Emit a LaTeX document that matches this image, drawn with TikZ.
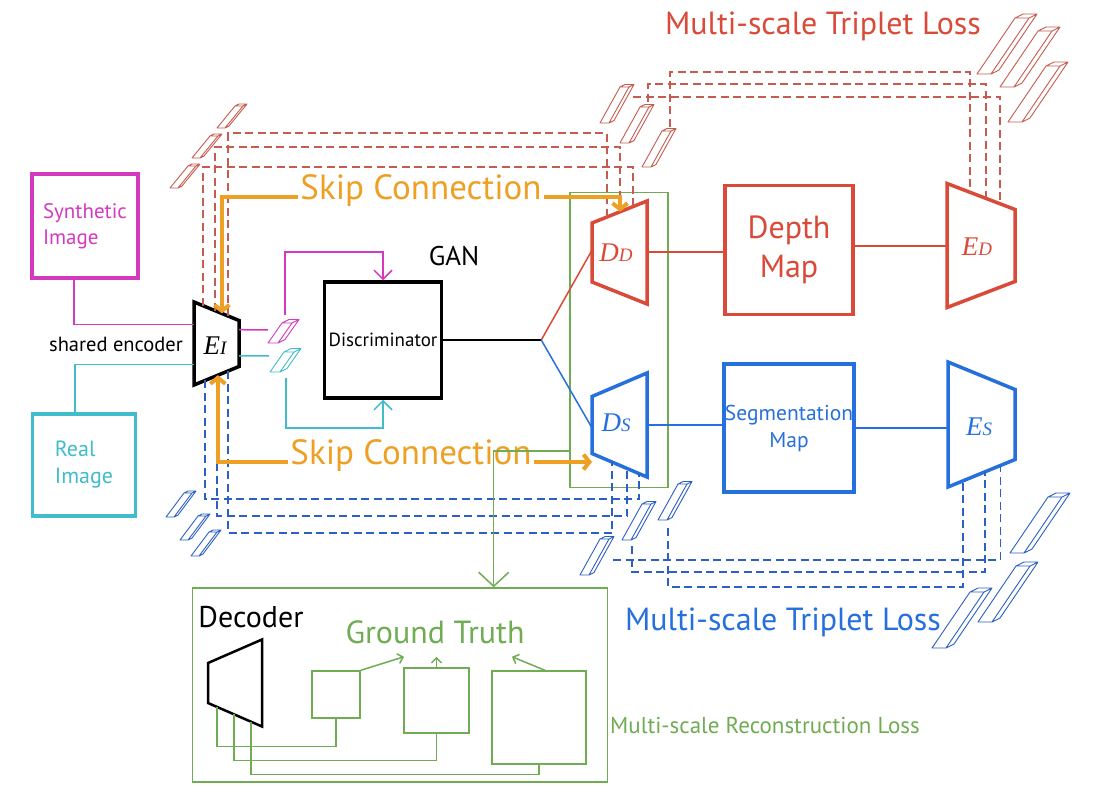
\documentclass[tikz,border=0pt]{standalone}
\usepackage{fontspec}
\setmainfont{PT Sans}
\newfontfamily\lblserif{Liberation Serif}
\usetikzlibrary{arrows.meta, calc, positioning}

\definecolor{synthmag}{RGB}{212,58,192}
\definecolor{realcyan}{RGB}{64,188,204}
\definecolor{depthred}{RGB}{218,74,56}
\definecolor{dashred}{RGB}{198,92,80}
\definecolor{segblue}{RGB}{38,112,222}
\definecolor{dashblue}{RGB}{44,96,196}
\definecolor{gtgreen}{RGB}{112,172,84}
\definecolor{skiporange}{RGB}{238,160,36}

% trapezium block: style, name, centre x, centre y, half width, left half height, right half height
\newcommand{\trapblock}[7]{%
  \coordinate (#2-a) at (#3-#5,#4-#6);
  \coordinate (#2-b) at (#3+#5,#4-#7);
  \coordinate (#2-c) at (#3+#5,#4+#7);
  \coordinate (#2-d) at (#3-#5,#4+#6);
  \coordinate (#2-out) at ($(#2-b)!.5!(#2-c)$);
  \coordinate (#2-in) at ($(#2-a)!.5!(#2-d)$);
  \draw[#1] (#2-a) -- (#2-b) -- (#2-c) -- (#2-d) -- cycle;}

% slanted feature bar: style, base point, length x, length y, width, depth
\newcommand{\featbar}[6]{%
  \draw[#1] (#2) -- ++(#5,0) -- ++(#3,-#4) -- ++(-#5,0) -- cycle
    (#2) ++(#3,-#4) -- ++(#6,-#6/2) -- ++(#5,0) -- ++(-#6,#6/2)
    (#2) ++(#5,0) -- ++(#6,-#6/2) -- ++(#3,-#4);}

\begin{document}
\begin{tikzpicture}[
    x=1pt, y=-1pt,
    every node/.style={inner sep=2pt},
    box/.style={draw, line width=3.5pt, inner sep=0pt},
    thinbox/.style={draw=gtgreen, line width=1.4pt, inner sep=0pt},
    wire/.style={line width=1.5pt},
    trap/.style={line width=3.5pt, line join=miter, fill=white},
    fbar/.style={line width=0.9pt, line join=round},
    lossline/.style={line width=1.5pt, dash pattern=on 8pt off 4.5pt},
    headarrow/.style={-{Straight Barb[length=9pt, width=18pt]}},
    skiparrow/.style={draw=skiporange, line width=4pt, -{Straight Barb[length=6pt, width=15pt]}},
    skiptext/.style={text=skiporange, font=\fontsize{35}{35}\selectfont},
    lbl/.style={font=\lblserif\itshape\fontsize{27}{27}\selectfont}
]
    \fill[white] (0,0) rectangle (1107,799);
    \useasboundingbox (0,0) rectangle (1107,799);

    % Nodes
    \node[box, draw=synthmag, minimum width=106, minimum height=104, align=left, text=synthmag,
          font=\fontsize{21}{26}\selectfont] (synth) at (85,226) {Synthetic\\Image};
    \node[box, draw=realcyan, minimum width=103, minimum height=102, align=left, text=realcyan,
          font=\fontsize{22}{27}\selectfont] (real) at (84,465) {Real\\Image};
    \node[box, minimum width=117, minimum height=116, font=\fontsize{19}{19}\selectfont] (disc) at (383,340) {Discriminator};
    \node[thinbox, minimum width=98, minimum height=295] (decgroup) at (619,340) {};
    \node[box, draw=depthred, minimum width=128, minimum height=129, align=center, text=depthred,
          font=\fontsize{32}{39}\selectfont] (depth) at (789,250) {Depth\\Map};
    \node[box, draw=segblue, minimum width=130, minimum height=128, align=center, text=segblue,
          font=\fontsize{21.5}{27}\selectfont] (seg) at (789,428) {Segmentation\\Map};
    \node[thinbox, minimum width=415, minimum height=194] (recon) at (400,685) {};
    \node[thinbox, minimum width=48, minimum height=47] (gt1) at (336,694.5) {};
    \node[thinbox, minimum width=65, minimum height=65] (gt2) at (436.5,700.5) {};
    \node[thinbox, minimum width=94, minimum height=93] (gt3) at (539,717.5) {};

    % Feature bars
    \foreach \px/\py in {217/128, 192/158, 170/188} \featbar{fbar, draw=dashred}{\px,\py}{18}{22}{8}{4};
    \foreach \px/\py in {600/123, 620/143, 642/167} \featbar{fbar, draw=dashred}{\px,\py}{20}{36}{9}{5};
    \foreach \px/\py in {977/74, 1000/87, 1008/122} \featbar{fbar, draw=dashred}{\px,\py}{38}{56}{14}{8};
    \foreach \px/\py in {166/517, 180/540, 191/556} \featbar{fbar, draw=dashblue}{\px,\py}{18}{24}{8}{4};
    \foreach \px/\py in {580/575, 622/540, 658/520} \featbar{fbar, draw=dashblue}{\px,\py}{20}{36}{9}{5};
    \foreach \px/\py in {1010/553, 978/622, 932/648} \featbar{fbar, draw=dashblue}{\px,\py}{38}{56}{14}{8};
    \featbar{fbar, draw=synthmag}{268,343}{14}{20}{10}{7}
    \featbar{fbar, draw=realcyan}{270,372}{14}{20}{10}{7}

    % Encoders and decoders
    \trapblock{trap}{EI}{216.5}{343.5}{22.5}{41.5}{23}
    \trapblock{trap, draw=depthred}{DD}{619.5}{252.5}{27.5}{29.5}{51.5}
    \trapblock{trap, draw=segblue}{DS}{619.5}{425}{27.5}{28.5}{52}
    \trapblock{trap, draw=depthred}{ED}{981}{245.5}{34}{62}{36}
    \trapblock{trap, draw=segblue}{ES}{981.5}{424.5}{33.5}{62.5}{35}
    \trapblock{trap, line width=2.5pt}{DEC}{235}{683}{27}{20}{43.5}

    \node[lbl] (EI) at (215,346) {E{\fontsize{19}{19}\selectfont I}};
    \node[lbl, text=depthred] (DD) at (616,253) {D{\fontsize{19}{19}\selectfont D}};
    \node[lbl, text=segblue] (DS) at (616,423) {D{\fontsize{19}{19}\selectfont S}};
    \node[lbl, text=depthred] (ED) at (977,247) {E{\fontsize{19}{19}\selectfont D}};
    \node[lbl, text=segblue] (ES) at (979,427) {E{\fontsize{19}{19}\selectfont S}};

    % Arrows
    \draw[wire, draw=synthmag] ([xshift=-11pt]synth.south) |- ($(EI-a)!.27!(EI-d)$);
    \draw[wire, draw=realcyan] ([xshift=-9pt]real.north) |- ($(EI-a)!.75!(EI-d)$);
    \coordinate (magin) at (268,330);
    \coordinate (magtop) at (285,315);
    \coordinate (cyanin) at (269,356);
    \coordinate (cyanbot) at (286,378);
    \draw[wire, draw=synthmag] ($(EI-b)!.2!(EI-c)$) -- (magin);
    \draw[wire, draw=realcyan] ($(EI-b)!.77!(EI-c)$) -- (cyanin);
    \draw[wire, draw=synthmag, headarrow] (magtop) -- ++(0,-63) -| (disc.north);
    \draw[wire, draw=realcyan, headarrow] (cyanbot) -- ++(0,50) -| (disc.south);

    \draw[wire] (disc.east) -- ++(98,0) coordinate (split);
    \draw[wire, draw=depthred] (split) -- ($(DD-a)!.46!(DD-d)$);
    \draw[wire, draw=segblue] (split) -- ($(DS-a)!.55!(DS-d)$);
    \draw[wire, draw=depthred, line width=2pt] (DD-out) -- (DD-out -| depth.west);
    \draw[wire, draw=depthred, line width=2pt] ([yshift=4pt]depth.east) -- ([yshift=4pt]depth.east -| ED-a);
    \draw[wire, draw=segblue] (DS-out) -- (DS-out -| seg.west);
    \draw[wire, draw=segblue, line width=2pt] (seg.east) -- (seg.east -| ES-a);

    % Triplet loss links
    \foreach \s/\t/\h in {.755/.27/133, .47/.51/147, .2/.745/167}{
        \coordinate (s) at ($(EI-a)!\s!(EI-b)$);
        \coordinate (t) at ($(DD-a)!\t!(DD-b)$);
        \coordinate (h) at (0,\h);
        \draw[lossline, draw=dashred] (s) |- (t |- h) -- (t);
    }
    \foreach \s/\t/\h in {.245/.855/499, .51/.64/516, .755/.36/533}{
        \coordinate (s) at ($(EI-d)!\s!(EI-c)$);
        \coordinate (t) at ($(DS-d)!\t!(DS-c)$);
        \coordinate (h) at (0,\h);
        \draw[lossline, draw=dashblue] (s) |- (t |- h) -- (t);
    }
    \foreach \sx/\sy/\t/\h in {670/127/.34/72, 648/102/.57/84, 633/97/.78/97}{
        \coordinate (s) at (\sx,\sy);
        \coordinate (t) at ($(ED-a)!\t!(ED-b)$);
        \coordinate (h) at (0,\h);
        \draw[lossline, draw=dashred] (s) |- (t |- h) -- (t);
    }
    \foreach \sx/\sy/\t/\h in {613/560/.78/560, 632/546/.55/572, 668/528/.22/587}{
        \coordinate (s) at (\sx,\sy);
        \coordinate (t) at ($(ES-d)!\t!(ES-c)$);
        \coordinate (h) at (0,\h);
        \draw[lossline, draw=dashblue] (s) |- (t |- h) -- (t);
    }

    % Skip connections
    \node[skiptext, anchor=mid] (skipD) at (421,197) {Skip Connection};
    \node[skiptext, anchor=mid] (skipS) at (411,462) {Skip Connection};
    \draw[skiparrow] (skipD.mid west) -| ($(EI-a)!.62!(EI-b)$);
    \draw[skiparrow] (skipD.mid east) -| ($(DD-a)!.51!(DD-b)$);
    \draw[skiparrow] (skipS.mid west) -| ($(EI-d)!.53!(EI-c)$);
    \draw[skiparrow] (skipS.mid east) -- (skipS.mid east -| DS-d);

    % Reconstruction
    \draw[wire, draw=gtgreen, -{Straight Barb[length=14pt, width=30pt]}]
        ($(decgroup.north west)!.875!(decgroup.south west)$) -| ($(recon.north west)!.725!(recon.north east)$);
    \draw[wire, draw=gtgreen] ($(DEC-d)!.17!(DEC-c)$) |- ($(gt1.south)+(0,28)$) -- (gt1.south);
    \draw[wire, draw=gtgreen] ($(DEC-d)!.48!(DEC-c)$) |- ($(gt2.south)+(0,27)$) -- (gt2.south);
    \draw[wire, draw=gtgreen] ($(DEC-d)!.8!(DEC-c)$) |- ($(gt3.south)+(0,10)$) -- (gt3.south);

    % Labels
    \node[font=\fontsize{20.5}{20.5}\selectfont] (shared) at (116,344) {shared encoder};
    \node[font=\fontsize{27}{27}\selectfont] (gan) at (454,256) {GAN};
    \node[text=depthred, font=\fontsize{32}{32}\selectfont] (tripD) at (823,26) {Multi-scale Triplet Loss};
    \node[text=segblue, font=\fontsize{32}{32}\selectfont] (tripS) at (783,622) {Multi-scale Triplet Loss};
    \node[font=\fontsize{30}{30}\selectfont] (declbl) at (251,617) {Decoder};
    \node[text=gtgreen, font=\fontsize{32}{32}\selectfont] (gtlbl) at (435,632) {Ground Truth};
    \node[text=gtgreen, font=\fontsize{23}{23}\selectfont] (reconlbl) at (765,725) {Multi-scale Reconstruction Loss};

    \draw[wire, draw=gtgreen, -{Straight Barb[length=5pt, width=10pt]}] (gt1.north east) -- ([xshift=-31pt, yshift=-11pt]gtlbl.south);
    \draw[wire, draw=gtgreen, -{Straight Barb[length=5pt, width=10pt]}] (gt2.north) -- ([yshift=-11pt]gtlbl.south -| gt2.north);
    \draw[wire, draw=gtgreen, -{Straight Barb[length=5pt, width=10pt]}] ([xshift=6pt]gt3.north) -- ([xshift=77pt, yshift=-11pt]gtlbl.south);
\end{tikzpicture}
\end{document}
